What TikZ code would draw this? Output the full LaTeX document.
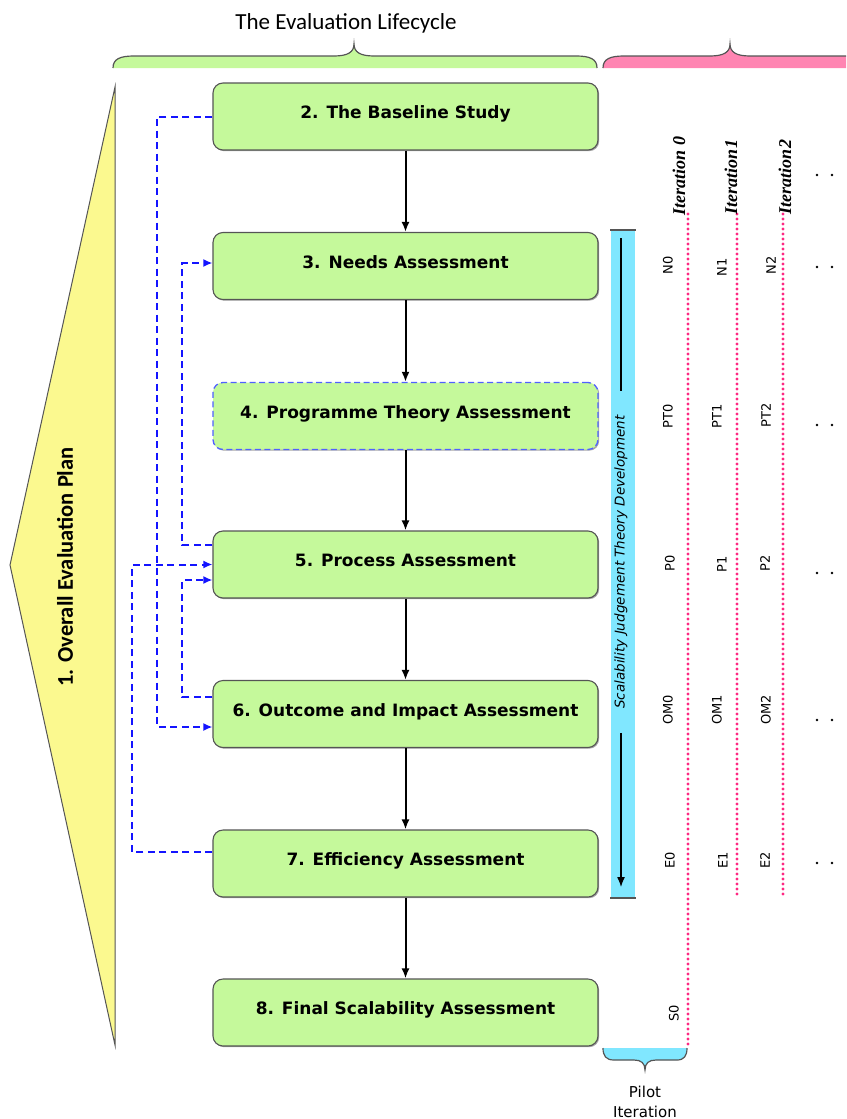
\documentclass[tikz,border=0pt]{standalone}
\usepackage{fontspec}
\setmainfont{DejaVu Sans}
\newfontfamily\calfont{Carlito}
\newfontfamily\itfont{Liberation Serif}
\usetikzlibrary{arrows.meta,shadows,calc}

\definecolor{boxgreen}{RGB}{197,249,155}
\definecolor{planyellow}{RGB}{251,249,143}
\definecolor{barcyan}{RGB}{128,231,255}
\definecolor{bracepink}{RGB}{255,133,178}
\definecolor{dotpink}{RGB}{255,40,130}
\definecolor{linkblue}{RGB}{20,20,255}
\definecolor{draftblue}{RGB}{80,96,255}
\definecolor{edgegray}{RGB}{85,85,85}

\tikzset{
  stage/.style={draw=edgegray, line width=1.1pt, fill=boxgreen, rounded corners=10pt,
    minimum width=385pt, minimum height=67pt, text height=14pt, text depth=10pt,
    font=\fontsize{17}{20}\selectfont\bfseries,
    drop shadow={shadow xshift=1.2pt, shadow yshift=-1.2pt, opacity=0.35, fill=black}},
  draftstage/.style={stage, draw=draftblue, line width=1.3pt, dash pattern=on 6pt off 3.5pt},
  flow/.style={-{Latex[length=10pt,width=8pt]}, line width=2pt},
  link/.style={linkblue, line width=2pt, dash pattern=on 7pt off 4.5pt, -{Latex[length=9pt,width=8pt]}},
  dotmark/.style={fill=dotpink},
  cell/.style={rotate=90, font=\fontsize{13}{15}\selectfont, inner sep=0pt},
  iterlabel/.style={rotate=90, font=\itfont\fontsize{18}{20}\selectfont\bfseries\itshape, inner sep=0pt},
  bracefill/.style={draw=edgegray, line width=1.2pt},
}

\begin{document}
\begin{tikzpicture}[x=1pt,y=-1pt]
\useasboundingbox (0,0) rectangle (846,1119);
\clip (0,0) rectangle (846,1119);

% title and braces
\node[font=\calfont\fontsize{23}{25}\selectfont] (title) at (346,23) {The Evaluation Lifecycle};
\draw[bracefill, fill=boxgreen] (113,68) .. controls (113,59) and (120,56) .. (134,56) -- (334,56)
  .. controls (348,56) and (354,52) .. (354,44) .. controls (354,52) and (360,56) .. (374,56)
  -- (576,56) .. controls (590,56) and (597,59) .. (597,68);
\draw[bracefill, fill=bracepink] (603,68) .. controls (603,59) and (610,56) .. (624,56) -- (710,56)
  .. controls (724,56) and (730,52) .. (730,44) .. controls (730,52) and (736,56) .. (750,56)
  -- (870,56) -- (870,68);

% overall plan
\draw[draw=edgegray, line width=1pt, fill=planyellow] (115,87) -- (10,565) -- (115,1045) -- cycle;
\node[rotate=90, font=\calfont\fontsize{22.5}{24}\selectfont\bfseries] (plan) at (65,567) {1. Overall Evaluation Plan};

% lifecycle stages
\node[stage] (b2) at (405.5,116.5) {2. The Baseline Study};
\node[stage] (b3) at (405.5,266) {3. Needs Assessment};
\node[draftstage] (b4) at (405.5,416) {4. Programme Theory Assessment};
\node[stage] (b5) at (405.5,564.5) {5. Process Assessment};
\node[stage] (b6) at (405.5,714) {6. Outcome and Impact Assessment};
\node[stage] (b7) at (405.5,863.5) {7. Efficiency Assessment};
\node[stage] (b8) at (405.5,1012.5) {8. Final Scalability Assessment};

\draw[flow] (b2) -- (b3);
\draw[flow] (b3) -- (b4);
\draw[flow] (b4) -- (b5);
\draw[flow] (b5) -- (b6);
\draw[flow] (b6) -- (b7);
\draw[flow] (b7) -- (b8);

% feedback links
\draw[link] (b2.west) -- ++(-55,0) |- ([yshift=-13pt]b6.west);
\draw[link] ([yshift=19.5pt]b5.west) -- ++(-30,0) |- ([yshift=3pt]b3.west);
\draw[link] ([yshift=17pt]b6.west) -- ++(-30,0) |- ([yshift=-15.5pt]b5.west);
\draw[link] ([yshift=11.5pt]b7.west) -- ++(-80,0) |- (b5.west);

% scalability judgement bar
\fill[barcyan] (611,230) rectangle (635,898);
\draw[edgegray, line width=1.8pt] (610,230) -- (636,230);
\draw[edgegray, line width=1.8pt] (610,898) -- (636,898);
\node[rotate=90, font=\fontsize{13.5}{15}\selectfont\itshape, inner xsep=24pt, inner ysep=0pt] (scal) at (621,562) {Scalability Judgement Theory Development};
\coordinate (bartop) at (621,238);
\coordinate (barbot) at (621,887);
\draw[line width=1.3pt] (bartop) -- (scal.east);
\draw[line width=1.3pt, -{Latex[length=10pt,width=8pt]}] (scal.west) -- (barbot);

% iteration timelines (dotted)
\foreach \y in {214,219,...,1047} { \fill[dotmark] (688,\y) circle (1.7pt); }
\foreach \x in {737,783} {
  \foreach \y in {214,219,...,895} { \fill[dotmark] (\x,\y) circle (1.7pt); }
}
\node[iterlabel] (it0) at (679,176) {Iteration 0};
\node[iterlabel] (it1) at (731,177) {Iteration1};
\node[iterlabel] (it2) at (785,177) {Iteration2};

\node[cell] (n0) at (668,265) {N0};
\node[cell] (n1) at (722,267) {N1};
\node[cell] (n2) at (771,265) {N2};
\node[cell] (pt0) at (668,416) {PT0};
\node[cell] (pt1) at (717,416) {PT1};
\node[cell] (pt2) at (766,415) {PT2};
\node[cell] (p0) at (670,563) {P0};
\node[cell] (p1) at (722,564) {P1};
\node[cell] (p2) at (765,563) {P2};
\node[cell] (om0) at (668,710) {OM0};
\node[cell] (om1) at (717,710) {OM1};
\node[cell] (om2) at (766,710) {OM2};
\node[cell] (e0) at (670,860) {E0};
\node[cell] (e1) at (723,860) {E1};
\node[cell] (e2) at (765,860) {E2};
\node[cell] (s0) at (674,1013) {S0};

\foreach \y in {175,267,425,573,720,863} {
  \fill (817,\y) circle (1.4pt);
  \fill (832,\y) circle (1.4pt);
}

% pilot iteration brace
\draw[bracefill, fill=barcyan] (603,1048) .. controls (603,1056) and (606,1060) .. (614,1060) -- (634,1060)
  .. controls (641,1060) and (645,1063) .. (645,1070) .. controls (645,1063) and (649,1060) .. (656,1060)
  -- (677,1060) .. controls (684,1060) and (687,1056) .. (687,1048);
\node[font=\fontsize{15}{20}\selectfont, align=center] (pilot) at (645,1102) {Pilot\\Iteration};
\end{tikzpicture}
\end{document}
